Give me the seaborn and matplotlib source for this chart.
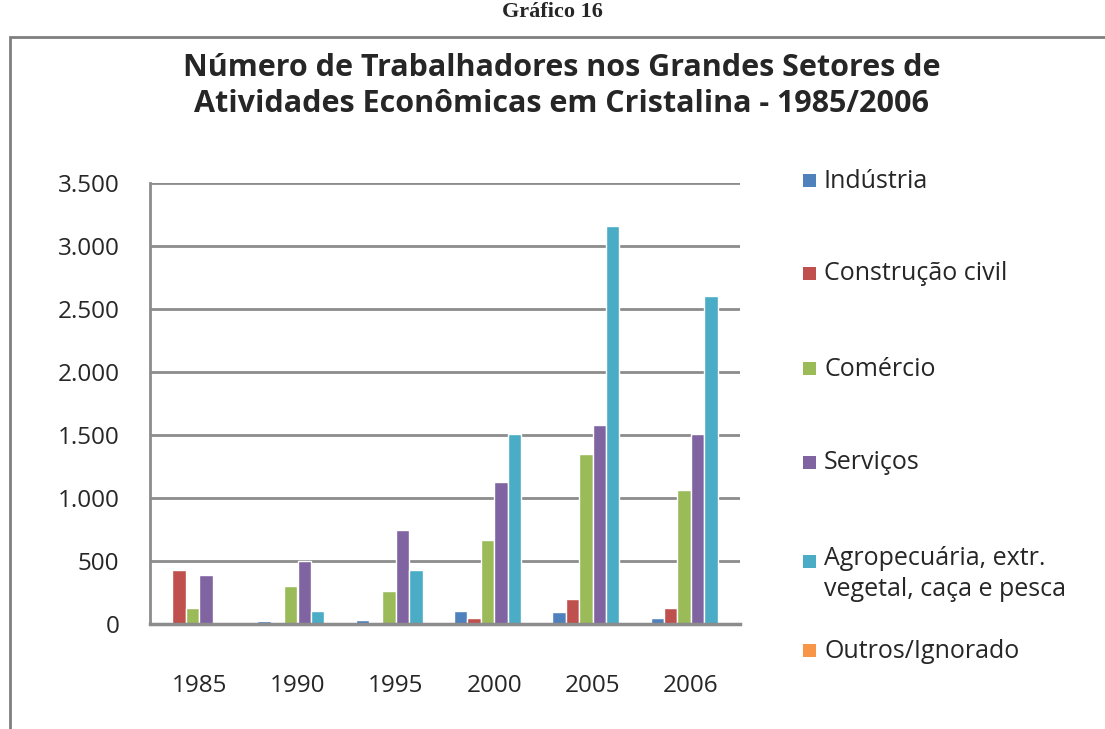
import pandas as pd
import matplotlib.pyplot as plt
import seaborn as sns
from matplotlib.patches import Rectangle

# dados
anos = ['1985', '1990', '1995', '2000', '2005', '2006']
setores = ['Indústria', 'Construção civil', 'Comércio', 'Serviços',
           'Agropecuária, extr.\nvegetal, caça e pesca', 'Outros/Ignorado']
industria = [15, 20, 30, 100, 95, 45]
construcao = [430, 5, 5, 45, 200, 130]
comercio = [125, 300, 265, 670, 1350, 1060]
servicos = [390, 500, 750, 1130, 1580, 1510]
agropecuaria = [10, 100, 430, 1510, 3160, 2600]
outros = [5, 8, 8, 5, 5, 5]
cores = ['#4F81BD', '#C0504D', '#9BBB59', '#8064A2', '#4BACC6', '#F79646']

valores = [industria, construcao, comercio, servicos, agropecuaria, outros]
linhas = []
for setor, serie in zip(setores, valores):
    for ano, v in zip(anos, serie):
        linhas.append({'Ano': ano, 'Setor': setor, 'Trabalhadores': v})
df = pd.DataFrame(linhas)

sns.set_style('white')
plt.rcParams['font.family'] = ['Open Sans', 'DejaVu Sans']

fig = plt.figure(figsize=(11.05, 7.29), dpi=100)
ax = fig.add_axes([150 / 1105, 1 - 624 / 729, 590 / 1105, (624 - 183) / 729])

sns.barplot(data=df, x='Ano', y='Trabalhadores', hue='Setor', hue_order=setores,
            order=anos, palette=cores, width=0.82, ax=ax, legend=False, saturation=1)

ax.set_ylim(0, 3500)
ax.set_yticks(range(0, 3501, 500))
ax.set_yticklabels(['0', '500', '1.000', '1.500', '2.000', '2.500', '3.000', '3.500'])
ax.yaxis.grid(True, color='#8c8c8c', linewidth=2)
ax.set_axisbelow(True)
ax.set_xlabel('')
ax.set_ylabel('')
for s in ['top', 'right']:
    ax.spines[s].set_visible(False)
ax.spines['left'].set_color('#8c8c8c')
ax.spines['left'].set_linewidth(2)
ax.spines['bottom'].set_color('#8c8c8c')
ax.spines['bottom'].set_linewidth(2.5)
ax.tick_params(axis='y', labelsize=17.5, pad=22, length=0)
ax.tick_params(axis='x', labelsize=17.5, pad=36, length=0)

# título
fig.text(0.508, 1 - 86 / 729, 'Número de Trabalhadores nos Grandes Setores de\n'
         'Atividades Econômicas em Cristalina - 1985/2006',
         ha='center', va='center', fontsize=22, fontweight='bold', linespacing=1.3)

# rótulo externo
fig.text(0.5, 1 - 2 / 729, 'Gráfico 16', ha='center', va='top',
         fontsize=16, fontweight='bold', family='Liberation Serif')

# moldura
fig.patches.append(Rectangle((10 / 1105, -0.1), 1.2, 1 - 37 / 729 + 0.1,
                             transform=fig.transFigure, fill=False,
                             edgecolor='#7f7f7f', linewidth=2))

# legenda manual
leg_y = [181, 274, 369, 463, 562, 651]
for cor, setor, y in zip(cores, setores, leg_y):
    fig.patches.append(Rectangle((803 / 1105, 1 - (y + 6) / 729), 13 / 1105, 13 / 729,
                                 transform=fig.transFigure, facecolor=cor,
                                 edgecolor='none'))
    if '\n' in setor:
        fig.text(824 / 1105, 1 - 546 / 729, setor, ha='left', va='top',
                 fontsize=18, linespacing=1.3)
    else:
        fig.text(824 / 1105, 1 - y / 729, setor, ha='left', va='center', fontsize=18)

plt.savefig('out.png', dpi=100)
